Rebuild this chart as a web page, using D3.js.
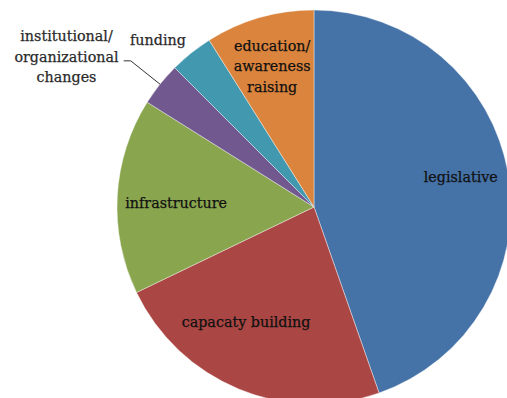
<html>
<head>
<meta charset="utf-8">
<script src="https://d3js.org/d3.v7.min.js"></script>
<style>
  body { margin: 0; background: #fff; }
  text { font-family: "DejaVu Serif", serif; font-size: 14.3px; fill: #111; stroke: #111; stroke-width: 0.25px; }
</style>
</head>
<body>
<script>
var width = 507
var height = 398

// data, clockwise from 12 o'clock
var categories = ["legislative", "capacaty building", "infrastructure",
                  "institutional/\norganizational\nchanges", "funding", "education/\nawareness\nraising"]
var values = [50, 26, 18, 4, 4, 10]
var colors = ["#4572A7", "#AA4643", "#89A54E", "#71588F", "#4198AF", "#DB843D"]

// label placement: radius as share of pie radius, angle nudge in degrees
var labelRadius = [0.76, 0.68, 0.70, 1.47, 1.16, 0.745]
var labelNudge = [-1.8, 8, -1.6, -7.3, -4.5, -0.5]
var outside = [false, false, false, true, true, false]

var cx = 314, cy = 207, r = 197

var svg = d3.select("body").append("svg")
  .attr("width", width)
  .attr("height", height)

var g = svg.append("g").attr("transform", "translate(" + cx + "," + cy + ")")

var pie = d3.pie().sort(null).value(d => d)
var arcs = pie(values)
var arc = d3.arc().innerRadius(0).outerRadius(r)

g.selectAll("path.slice")
  .data(arcs)
  .enter()
  .append("path")
    .attr("class", "slice")
    .attr("d", arc)
    .attr("fill", (d, i) => colors[i])
    .attr("stroke", "#fff")
    .attr("stroke-width", 0.4)

function polar(rad, ang) {
  return [rad * Math.sin(ang), -rad * Math.cos(ang)]
}

// leader line for the small institutional slice
arcs.forEach(function(d, i) {
  if (i !== 3) return
  var mid = (d.startAngle + d.endAngle) / 2
  var p0 = polar(r * 1.0, mid)
  var p1 = polar(r * 1.19, mid)
  g.append("polyline")
    .attr("points", [p0, p1, [p1[0] - 7, p1[1]]].map(p => p.join(",")).join(" "))
    .attr("fill", "none")
    .attr("stroke", "#333")
    .attr("stroke-width", 1)
})

var lineH = 20.5
g.selectAll("text.lbl")
  .data(arcs)
  .enter()
  .append("text")
    .attr("class", "lbl")
    .attr("text-anchor", "middle")
    .each(function(d, i) {
      var mid = (d.startAngle + d.endAngle) / 2 + labelNudge[i] * Math.PI / 180
      var p = polar(r * labelRadius[i], mid)
      var lines = categories[i].split("\n")
      var t = d3.select(this)
      lines.forEach(function(s, k) {
        t.append("tspan")
          .attr("x", p[0])
          .attr("y", p[1] + (k - (lines.length - 1) / 2) * lineH)
          .attr("dy", "0.35em")
          .text(s)
      })
      if (outside[i]) t.style("fill", "#2a2a2a").style("stroke", "#2a2a2a")
    })
</script>
</body>
</html>
